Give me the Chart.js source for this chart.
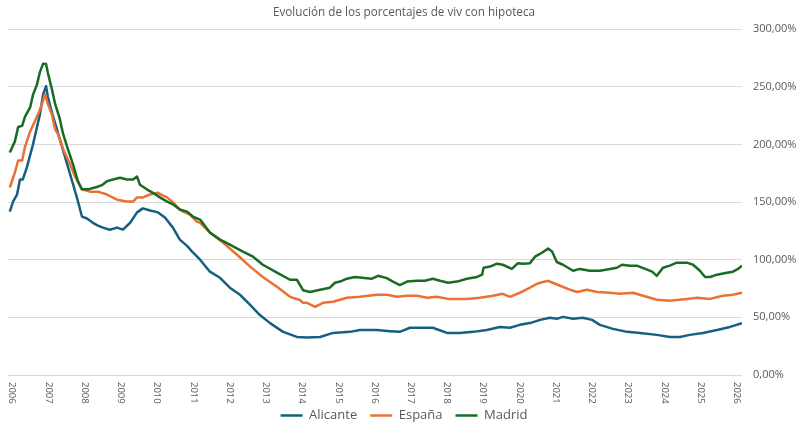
<!DOCTYPE html>
<html>
<head>
<meta charset="utf-8">
<script src="https://cdn.jsdelivr.net/npm/chart.js@4"></script>
<style>
  html, body { margin: 0; padding: 0; background: #fff; }
  #wrap { width: 800px; height: 432px; }
</style>
</head>
<body>
<div id="wrap"><canvas id="hipotecaChart"></canvas></div>
<script>
// años del eje x
const anios = [2006, 2007, 2008, 2009, 2010, 2011, 2012, 2013, 2014, 2015, 2016,
               2017, 2018, 2019, 2020, 2021, 2022, 2023, 2024, 2025, 2026];

// [fecha (año decimal), porcentaje]
const alicante = [
  [2005.94, 141.7], [2006.03, 150.4], [2006.14, 156.5], [2006.22, 169.6], [2006.30, 169.6],
  [2006.41, 180], [2006.58, 200], [2006.77, 226], [2006.86, 243.5], [2006.94, 250.4],
  [2006.99, 241], [2007.10, 227.8], [2007.24, 213], [2007.38, 198], [2007.52, 183],
  [2007.66, 168], [2007.79, 154], [2007.93, 137.4], [2008.07, 135.7], [2008.23, 132],
  [2008.37, 129.6], [2008.51, 127.8], [2008.70, 126], [2008.90, 127.8], [2009.06, 126],
  [2009.26, 132], [2009.45, 141], [2009.61, 144.5], [2009.81, 142.6], [2010.03, 141],
  [2010.22, 136.5], [2010.44, 127.8], [2010.63, 117.4], [2010.83, 112], [2010.97, 107],
  [2011.19, 100], [2011.46, 89.6], [2011.74, 84.3], [2012.01, 75.7], [2012.29, 69.6],
  [2012.57, 60.9], [2012.84, 52], [2013.12, 45], [2013.48, 37.4], [2013.86, 33],
  [2014.14, 32.5], [2014.50, 33], [2014.86, 36.5], [2015.32, 37.4], [2015.60, 39],
  [2016.07, 39], [2016.43, 38], [2016.70, 37.4], [2016.98, 41], [2017.26, 41],
  [2017.61, 41], [2018.00, 36.5], [2018.36, 36.5], [2018.72, 37.4], [2019.10, 39],
  [2019.46, 41.7], [2019.74, 41], [2020.01, 43.5], [2020.29, 45], [2020.57, 47.8],
  [2020.84, 49.6], [2021.03, 48.7], [2021.20, 50.4], [2021.48, 48.7], [2021.75, 49.6],
  [2022.00, 47.8], [2022.22, 43.5], [2022.58, 40], [2022.97, 37.4], [2023.32, 36.5],
  [2023.79, 34.8], [2024.15, 33], [2024.43, 33], [2024.70, 34.8], [2025.06, 36.5],
  [2025.45, 39], [2025.81, 41.7], [2026.14, 45]
];

const espana = [
  [2005.94, 162.6], [2006.08, 175.6], [2006.17, 186], [2006.28, 186], [2006.36, 198],
  [2006.50, 211], [2006.63, 220], [2006.72, 226], [2006.83, 235], [2006.91, 243.5],
  [2006.99, 235], [2007.10, 226], [2007.19, 213], [2007.27, 209], [2007.41, 196],
  [2007.60, 183], [2007.74, 172], [2007.93, 161], [2008.15, 159], [2008.37, 159],
  [2008.62, 156.5], [2008.90, 152], [2009.17, 150.4], [2009.34, 150.4], [2009.45, 154],
  [2009.61, 154], [2009.81, 156.5], [2010.03, 158], [2010.17, 155.6], [2010.28, 154],
  [2010.44, 149.6], [2010.63, 143.5], [2010.72, 141.7], [2010.91, 139], [2011.10, 133],
  [2011.19, 132], [2011.46, 123.5], [2011.82, 114.8], [2012.21, 104.3], [2012.57, 94],
  [2012.92, 85], [2013.31, 76.5], [2013.67, 67.8], [2013.94, 65], [2014.03, 62.6],
  [2014.14, 62.6], [2014.36, 59], [2014.58, 62.6], [2014.86, 63.5], [2015.24, 67],
  [2015.60, 67.8], [2016.07, 69.6], [2016.34, 69.6], [2016.62, 67.8], [2016.90, 68.7],
  [2017.17, 68.7], [2017.45, 67], [2017.72, 67.8], [2018.03, 66], [2018.55, 66],
  [2018.91, 67], [2019.27, 68.7], [2019.54, 70.4], [2019.74, 67.8], [2020.01, 71.3],
  [2020.29, 75.7], [2020.48, 79], [2020.57, 80], [2020.79, 81.7], [2020.92, 80],
  [2021.12, 77.4], [2021.39, 74], [2021.59, 72], [2021.86, 74], [2022.14, 72],
  [2022.50, 71.3], [2022.77, 70.4], [2023.13, 71.3], [2023.41, 68.7], [2023.79, 65.2],
  [2024.15, 64.3], [2024.62, 66], [2024.90, 67], [2025.26, 66], [2025.61, 68.7],
  [2025.89, 69.6], [2026.14, 71.3]
];

const madrid = [
  [2005.94, 193], [2006.08, 202.6], [2006.17, 215], [2006.28, 216], [2006.36, 224],
  [2006.50, 232], [2006.58, 243], [2006.69, 252], [2006.77, 262.6], [2006.86, 270],
  [2006.94, 269.6], [2006.99, 262], [2007.10, 248], [2007.19, 235], [2007.32, 222],
  [2007.41, 209], [2007.54, 196], [2007.68, 183], [2007.82, 168], [2007.93, 161],
  [2008.10, 161], [2008.34, 163], [2008.48, 164.6], [2008.62, 168], [2008.79, 169.6],
  [2008.98, 171], [2009.17, 169.6], [2009.34, 169.6], [2009.45, 172], [2009.53, 165],
  [2009.72, 161], [2009.89, 158], [2010.08, 154], [2010.28, 150.4], [2010.44, 148],
  [2010.63, 143.5], [2010.83, 141.7], [2010.99, 137.4], [2011.19, 134.8], [2011.46, 123.5],
  [2011.74, 117.4], [2012.01, 113], [2012.37, 107], [2012.65, 102.6], [2012.92, 95.6],
  [2013.31, 88.7], [2013.67, 82.6], [2013.86, 82.6], [2014.03, 73.5], [2014.22, 72],
  [2014.50, 74], [2014.77, 75.7], [2014.91, 80], [2015.05, 81], [2015.24, 83.5],
  [2015.46, 85], [2015.79, 84], [2015.93, 83.5], [2016.10, 86], [2016.34, 84],
  [2016.51, 81], [2016.70, 78], [2016.90, 81], [2017.17, 81.7], [2017.39, 81.7],
  [2017.61, 83.5], [2017.81, 81.7], [2018.03, 80], [2018.28, 81], [2018.55, 83.5],
  [2018.83, 85], [2018.97, 87], [2019.01, 93], [2019.19, 94], [2019.38, 96.5],
  [2019.54, 95.6], [2019.79, 92], [2019.96, 97], [2020.10, 96.5], [2020.29, 97],
  [2020.43, 102.6], [2020.62, 106], [2020.79, 109.6], [2020.90, 107], [2021.03, 98],
  [2021.20, 95.6], [2021.48, 90.4], [2021.67, 92], [2021.94, 90.4], [2022.22, 90.4],
  [2022.50, 92], [2022.69, 93], [2022.83, 95.6], [2023.05, 94.8], [2023.24, 94.8],
  [2023.52, 91.3], [2023.66, 89.6], [2023.79, 86], [2023.96, 93], [2024.15, 94.8],
  [2024.34, 97.4], [2024.62, 97.4], [2024.79, 95.6], [2024.98, 90.4], [2025.12, 85],
  [2025.26, 85], [2025.45, 87], [2025.72, 88.7], [2025.89, 89.6], [2026.03, 92],
  [2026.14, 94.8]
];

const FONT = "'Open Sans', sans-serif";
const TEXT_COLOR = '#595959';

const toPoints = arr => arr.map(([x, y]) => ({ x: x, y: y }));

// etiquetas de años giradas en sentido horario (como en Excel)
const yearLabels = {
  id: 'yearLabels',
  afterDraw(chart) {
    const xs = chart.scales.x;
    const ctx = chart.ctx;
    ctx.save();
    ctx.fillStyle = TEXT_COLOR;
    ctx.font = '9.5px ' + FONT;
    ctx.textAlign = 'left';
    ctx.textBaseline = 'middle';
    anios.forEach(a => {
      const px = xs.getPixelForValue(a);
      ctx.save();
      ctx.translate(px, chart.chartArea.bottom + 7);
      ctx.rotate(Math.PI / 2);
      ctx.fillText(String(a), 0, 0);
      ctx.restore();
    });
    ctx.restore();
  }
};

function serie(label, datos, color, orden) {
  return {
    label: label,
    data: toPoints(datos),
    borderColor: color,
    backgroundColor: color,
    borderWidth: 2.5,
    pointBorderColor: color,
    pointBackgroundColor: color,
    pointBorderWidth: 2.5,
    order: orden
  };
}

const ctx = document.getElementById('hipotecaChart').getContext('2d');
new Chart(ctx, {
  type: 'line',
  data: {
    datasets: [
      serie('Alicante', alicante, '#156082', 2),
      serie('España', espana, '#E97132', 1),
      serie('Madrid', madrid, '#196B24', 0)
    ]
  },
  options: {
    responsive: true,
    maintainAspectRatio: false,
    animation: false,
    layout: { padding: { left: 8, right: 0, top: 0, bottom: 0 } },
    elements: {
      line: { tension: 0, borderJoinStyle: 'round', fill: false },
      point: { radius: 0 }
    },
    plugins: {
      title: {
        display: true,
        text: 'Evolución de los porcentajes de viv con hipoteca',
        color: TEXT_COLOR,
        font: { family: FONT, size: 11.7, weight: 'normal' },
        padding: { top: 6, bottom: 9 }
      },
      legend: {
        position: 'bottom',
        labels: {
          usePointStyle: true,
          pointStyle: 'line',
          pointStyleWidth: 22,
          padding: 13,
          color: TEXT_COLOR,
          font: { family: FONT, size: 13 },
          sort: (a, b) => a.datasetIndex - b.datasetIndex
        }
      },
      tooltip: { enabled: false }
    },
    scales: {
      x: {
        type: 'linear',
        min: 2005.89,
        max: 2026.14,
        grid: { display: false },
        border: { display: false },
        ticks: { display: false },
        afterBuildTicks: axis => { axis.ticks = anios.map(v => ({ value: v })); },
        afterFit: axis => { axis.height = 21; }
      },
      y: {
        position: 'right',
        min: 0,
        max: 300,
        grid: { color: '#d9d9d9', drawTicks: false },
        border: { display: false },
        ticks: {
          stepSize: 50,
          padding: 11,
          color: TEXT_COLOR,
          font: { family: FONT, size: 11 },
          callback: v => v.toFixed(2).replace('.', ',') + '%'
        },
        afterFit: axis => { axis.width = 58; }
      }
    }
  },
  plugins: [yearLabels]
});
</script>
</body>
</html>
